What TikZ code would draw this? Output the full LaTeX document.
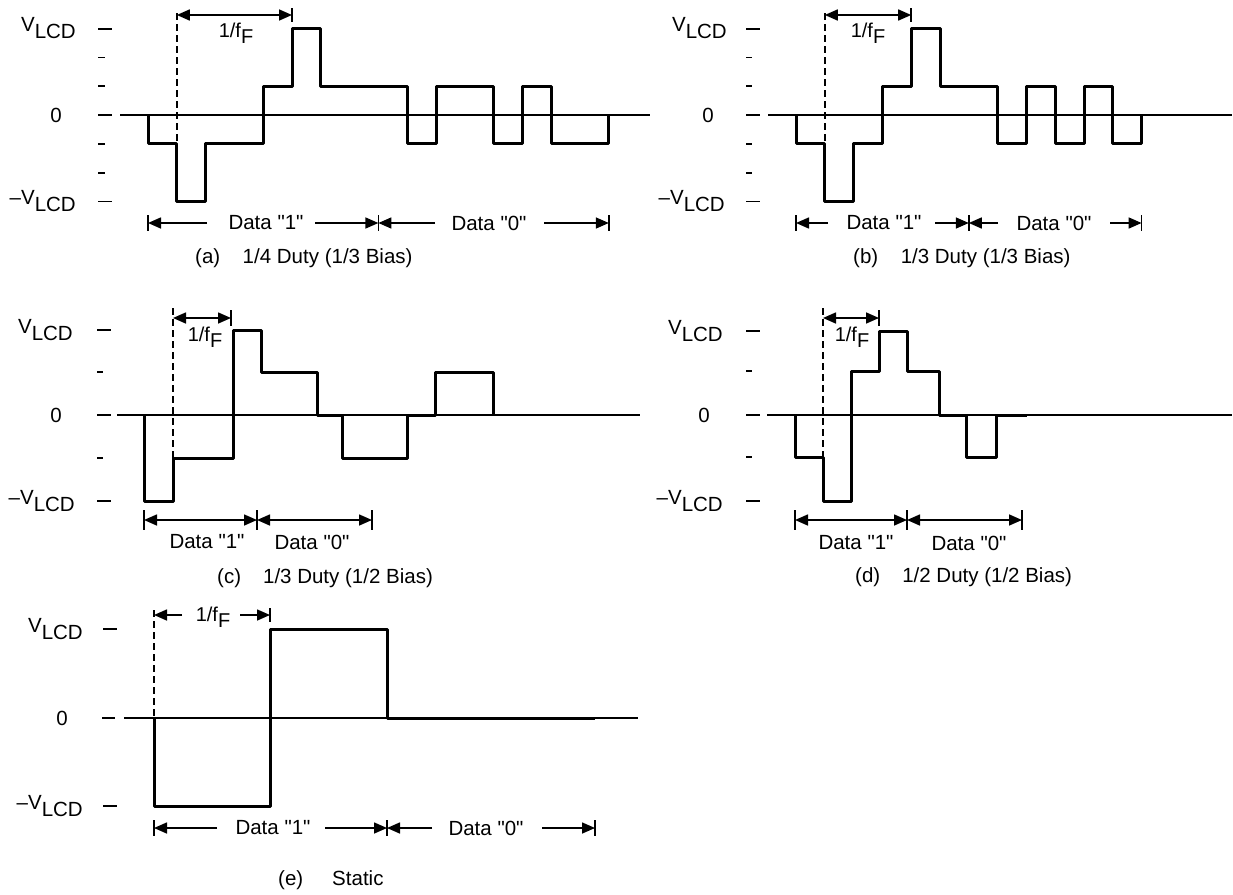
\documentclass[tikz,border=0pt]{standalone}
\usepackage{fontspec}
\setmainfont{Liberation Sans}
\newfontfamily\lsans{Liberation Sans}
\usetikzlibrary{arrows.meta}
\begin{document}
\begin{tikzpicture}[x=1pt,y=-1pt,
  wave/.style={line width=3pt,line join=round},
  axisln/.style={line width=1.8pt},
  tickln/.style={line width=1.8pt},
  dashln/.style={line width=1.6pt,dash pattern=on 7pt off 4pt},
  dimone/.style={line width=1.6pt,-{Triangle[length=13pt,width=11pt]}},
  dimboth/.style={line width=1.6pt,{Triangle[length=13pt,width=11pt]}-{Triangle[length=13pt,width=11pt]}},
  barln/.style={line width=1.6pt},
  lbl/.style={font=\lsans\fontsize{20.5}{24}\selectfont,inner sep=0pt},
  flbl/.style={font=\lsans\fontsize{20}{24}\selectfont,inner sep=0pt}
]
\useasboundingbox (0,0) rectangle (1233,894);

%% ================= (a) =================
\draw[axisln] (120,115) -- (650,115);
\foreach \y in {28.6,115,201.4} \draw[tickln] (98,\y) -- (112,\y);
\foreach \y in {57.4,86.2,143.8,172.6} \draw[tickln] (98,\y) -- (105,\y);
\node[lbl,anchor=base east] (aVp) at (76,31.6) {V\raisebox{-7pt}{LCD}};
\node[lbl] (aZ) at (56,115) {0};
\node[lbl,anchor=base east] (aVm) at (76,204.4) {\textendash V\raisebox{-7pt}{LCD}};
\draw[wave] (148,115) -- (148,143.8) -- (176.8,143.8) -- (176.8,201.4) -- (205.6,201.4)
  -- (205.6,143.8) -- (263.2,143.8) -- (263.2,86.2) -- (292,86.2) -- (292,28.6)
  -- (320.8,28.6) -- (320.8,86.2) -- (407.2,86.2) -- (407.2,143.8) -- (436,143.8)
  -- (436,86.2) -- (493.6,86.2) -- (493.6,143.8) -- (522.4,143.8) -- (522.4,86.2)
  -- (551.2,86.2) -- (551.2,143.8) -- (608.8,143.8) -- (608.8,115);
\coordinate (aDt) at (176.8,13); \coordinate (aDb) at (176.8,143.8);
\draw[dashln] (aDt) -- (aDb);
\coordinate (aFl) at (176.8,15); \coordinate (aFr) at (292,15);
\draw[dimboth] (aFl) -- (aFr);
\draw[barln] (292,8) -- (292,22);
\node[flbl,anchor=base] (aF) at (236,37) {1/f\raisebox{-6pt}{F}};
\coordinate (aB0) at (148,223); \coordinate (aB1) at (378.4,223); \coordinate (aB2) at (608.8,223);
\foreach \x in {148,378.4,608.8} \draw[barln] (\x,215) -- (\x,231);
\node[lbl] (aD1) at (266,223) {Data "1"};
\node[lbl] (aD0) at (489,223) {Data "0"};
\draw[dimone] (207,223) -- (aB0);
\draw[dimone] (315,223) -- (aB1);
\draw[dimone] (435,223) -- (aB1);
\draw[dimone] (544,223) -- (aB2);
\node[lbl,anchor=west] (aCap) at (195,258) {(a)\hspace{22.5pt}1/4 Duty (1/3 Bias)};

%% ================= (b) =================
\draw[axisln] (768,115) -- (1232,115);
\foreach \y in {28.6,115,201.4} \draw[tickln] (746,\y) -- (760,\y);
\foreach \y in {57.4,86.2,143.8,172.6} \draw[tickln] (746,\y) -- (752,\y);
\node[lbl,anchor=base east] (bVp) at (727,31.6) {V\raisebox{-7pt}{LCD}};
\node[lbl] (bZ) at (708,115) {0};
\node[lbl,anchor=base east] (bVm) at (725,204.4) {\textendash V\raisebox{-7pt}{LCD}};
\draw[wave] (796,115) -- (796,143.8) -- (824.8,143.8) -- (824.8,201.4) -- (853.6,201.4)
  -- (853.6,143.8) -- (882.4,143.8) -- (882.4,86.2) -- (911.2,86.2) -- (911.2,28.6)
  -- (940,28.6) -- (940,86.2) -- (997.6,86.2) -- (997.6,143.8) -- (1026.4,143.8)
  -- (1026.4,86.2) -- (1055.2,86.2) -- (1055.2,143.8) -- (1084,143.8) -- (1084,86.2)
  -- (1112.8,86.2) -- (1112.8,143.8) -- (1141.6,143.8) -- (1141.6,115);
\coordinate (bDt) at (824.8,13); \coordinate (bDb) at (824.8,143.8);
\draw[dashln] (bDt) -- (bDb);
\coordinate (bFl) at (824.8,15); \coordinate (bFr) at (911.2,15);
\draw[dimboth] (bFl) -- (bFr);
\draw[barln] (911.2,8) -- (911.2,22);
\node[flbl,anchor=base] (bF) at (868,37) {1/f\raisebox{-6pt}{F}};
\coordinate (bB0) at (796,223); \coordinate (bB1) at (968.8,223); \coordinate (bB2) at (1141.6,223);
\foreach \x in {796,968.8,1141.6} \draw[barln] (\x,215) -- (\x,231);
\node[lbl] (bD1) at (884,223) {Data "1"};
\node[lbl] (bD0) at (1054,223) {Data "0"};
\draw[dimone] (828,223) -- (bB0);
\draw[dimone] (935,223) -- (bB1);
\draw[dimone] (998,223) -- (bB1);
\draw[dimone] (1110,223) -- (bB2);
\node[lbl,anchor=west] (bCap) at (853,258) {(b)\hspace{22.5pt}1/3 Duty (1/3 Bias)};

%% ================= (c) =================
\draw[axisln] (117,415) -- (640,415);
\foreach \y in {330,415,501} \draw[tickln] (97,\y) -- (111,\y);
\foreach \y in {372,458} \draw[tickln] (97,\y) -- (103,\y);
\node[lbl,anchor=base east] (cVp) at (73,333) {V\raisebox{-7pt}{LCD}};
\node[lbl] (cZ) at (56,415) {0};
\node[lbl,anchor=base east] (cVm) at (75,504) {\textendash V\raisebox{-7pt}{LCD}};
\draw[wave] (144,415) -- (144,501) -- (173,501) -- (173,458) -- (233,458) -- (233,330)
  -- (261,330) -- (261,372) -- (317,372) -- (317,415) -- (342,415) -- (342,458)
  -- (407,458) -- (407,415) -- (435,415) -- (435,372) -- (493,372) -- (493,415);
\coordinate (cDt) at (173,308); \coordinate (cDb) at (173,458);
\draw[dashln] (cDt) -- (cDb);
\coordinate (cFl) at (173,318); \coordinate (cFr) at (231,318);
\draw[dimboth] (cFl) -- (cFr);
\draw[barln] (231,310) -- (231,326);
\node[flbl,anchor=base] (cF) at (205,341) {1/f\raisebox{-6pt}{F}};
\coordinate (cB0) at (144,520); \coordinate (cB1) at (257,520); \coordinate (cB2) at (372,520);
\foreach \x in {144,257,372} \draw[barln] (\x,510) -- (\x,530);
\draw[dimboth] (cB0) -- (cB1);
\draw[dimboth] (cB1) -- (cB2);
\node[lbl] (cD1) at (207,542) {Data "1"};
\node[lbl] (cD0) at (312,542) {Data "0"};
\node[lbl,anchor=west] (cCap) at (217,578) {(c)\hspace{22pt}1/3 Duty (1/2 Bias)};

%% ================= (d) =================
\draw[axisln] (767,415) -- (1232,415);
\foreach \y in {331,415,501} \draw[tickln] (746,\y) -- (760,\y);
\foreach \y in {371,457} \draw[tickln] (746,\y) -- (752,\y);
\node[lbl,anchor=base east] (dVp) at (723,334) {V\raisebox{-7pt}{LCD}};
\node[lbl] (dZ) at (704,415) {0};
\node[lbl,anchor=base east] (dVm) at (723,504) {\textendash V\raisebox{-7pt}{LCD}};
\draw[wave] (795,415) -- (795,457) -- (823,457) -- (823,501) -- (851,501) -- (851,371)
  -- (879,371) -- (879,331) -- (907,331) -- (907,371) -- (939,371) -- (939,415)
  -- (966,415) -- (966,457) -- (996,457) -- (996,415) -- (1027,415);
\coordinate (dDt) at (823,308); \coordinate (dDb) at (823,457);
\draw[dashln] (dDt) -- (dDb);
\coordinate (dFl) at (823,318); \coordinate (dFr) at (879,318);
\draw[dimboth] (dFl) -- (dFr);
\draw[barln] (879,310) -- (879,326);
\node[flbl,anchor=base] (dF) at (852,341) {1/f\raisebox{-6pt}{F}};
\coordinate (dB0) at (795,520); \coordinate (dB1) at (907,520); \coordinate (dB2) at (1022,520);
\foreach \x in {795,907,1022} \draw[barln] (\x,510) -- (\x,530);
\draw[dimboth] (dB0) -- (dB1);
\draw[dimboth] (dB1) -- (dB2);
\node[lbl] (dD1) at (856,543) {Data "1"};
\node[lbl] (dD0) at (969,543) {Data "0"};
\node[lbl,anchor=west] (dCap) at (855,577) {(d)\hspace{22pt}1/2 Duty (1/2 Bias)};

%% ================= (e) =================
\draw[axisln] (124,718) -- (638,718);
\foreach \y in {629,806} \draw[tickln] (103,\y) -- (117,\y);
\draw[tickln] (102,718) -- (115,718);
\node[lbl,anchor=base east] (eVp) at (83,632) {V\raisebox{-7pt}{LCD}};
\node[lbl] (eZ) at (62,718) {0};
\node[lbl,anchor=base east] (eVm) at (83,809) {\textendash V\raisebox{-7pt}{LCD}};
\draw[wave] (154,718) -- (154,806) -- (270,806) -- (270,629) -- (387,629) -- (387,718) -- (595,718);
\coordinate (eDt) at (154,610); \coordinate (eDb) at (154,718);
\draw[dashln] (eDt) -- (eDb);
\coordinate (eFl) at (154,615); \coordinate (eFr) at (270,615);
\node[flbl,anchor=base] (eF) at (213,621) {1/f\raisebox{-6pt}{F}};
\draw[dimone] (182,615) -- (eFl);
\draw[dimone] (240,615) -- (eFr);
\draw[barln] (270,608) -- (270,622);
\coordinate (eB0) at (154,828); \coordinate (eB1) at (387,828); \coordinate (eB2) at (595,828);
\foreach \x in {154,387,595} \draw[barln] (\x,820) -- (\x,836);
\node[lbl] (eD1) at (273,828) {Data "1"};
\node[lbl] (eD0) at (486,828) {Data "0"};
\draw[dimone] (217,828) -- (eB0);
\draw[dimone] (325,828) -- (eB1);
\draw[dimone] (432,828) -- (eB1);
\draw[dimone] (542,828) -- (eB2);
\node[lbl,anchor=west] (eCap) at (278,880) {(e)\hspace{29pt}Static};
\end{tikzpicture}
\end{document}
